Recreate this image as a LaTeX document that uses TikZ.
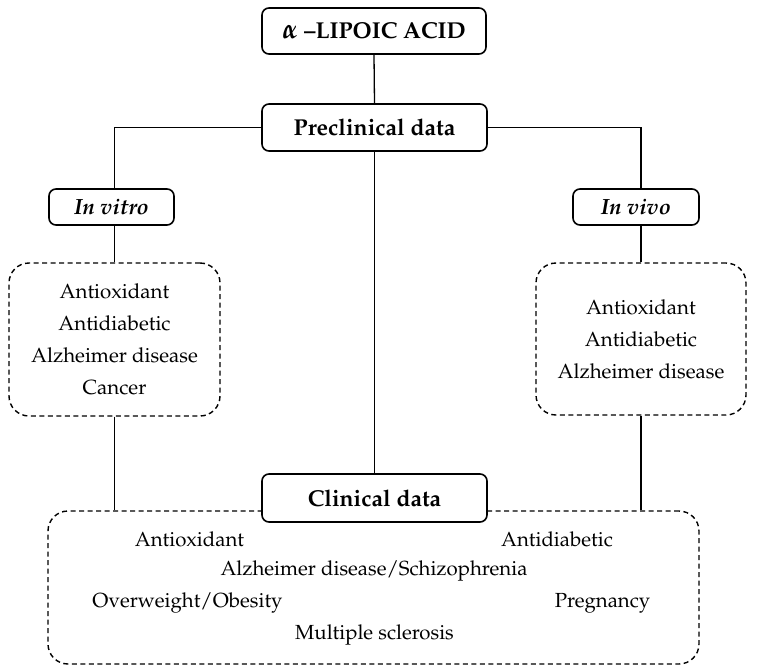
\documentclass[tikz,border=0pt]{standalone}
\usepackage[T1]{fontenc}
\usepackage{mathpazo}
\usetikzlibrary{backgrounds}
\tikzset{
  x=1pt,y=-1pt,
  solidbox/.style={draw,line width=1.6pt,rounded corners=7pt,fill=white,inner sep=0pt,font=\fontsize{23}{26}\selectfont\bfseries},
  dashbox/.style={draw,line width=1.4pt,dash pattern=on 5pt off 3.5pt,rounded corners=20pt,fill=white,inner sep=0pt,align=center,font=\fontsize{20.5}{32}\selectfont},
  conn/.style={line width=1.3pt},
  item/.style={inner sep=0pt,font=\fontsize{20.4}{24}\selectfont}
}
\begin{document}
\begin{tikzpicture}
\useasboundingbox (0,0) rectangle (758,670);
\node[solidbox,minimum width=224pt,minimum height=46pt] (top) at (374,31) {{\fontsize{28}{28}\selectfont\boldmath$\alpha$} --LIPOIC ACID};
\node[solidbox,minimum width=225pt,minimum height=47pt] (pre) at (374.5,127.5) {Preclinical data};
\node[dashbox,minimum width=211pt,minimum height=153pt] (vitroList) at (114.5,339.5) {Antioxidant\\Antidiabetic\\Alzheimer disease\\Cancer};
\node[dashbox,minimum width=210pt,minimum height=152pt] (vivoList) at (641,339) {Antioxidant\\Antidiabetic\\Alzheimer disease};
\node[solidbox,font=\fontsize{22}{24}\selectfont\bfseries\itshape,minimum width=125pt,minimum height=36pt] (vitro) at (111.5,207) {In vitro};
\node[solidbox,font=\fontsize{22}{24}\selectfont\bfseries\itshape,minimum width=126pt,minimum height=36pt] (vivo) at (636,207) {In vivo};
\node[dashbox,minimum width=651pt,minimum height=153pt] (clinList) at (373.5,587.5) {};
\node[solidbox,minimum width=225pt,minimum height=48pt] (clin) at (374.5,498) {Clinical data};
\node[item] (c1) at (189.5,539) {Antioxidant};
\node[item] (c2) at (557,539) {Antidiabetic};
\node[item] (c3) at (374,571) {Alzheimer disease/Schizophrenia};
\node[item] (c4) at (187.5,603) {Overweight/Obesity};
\node[item] (c5) at (602.5,603) {Pregnancy};
\node[item] (c6) at (374.5,635) {Multiple sclerosis};
\begin{scope}[on background layer]
\draw[conn] (top.south) -- (pre.north);
\draw[conn] (pre.south) -- (clin.north);
\draw[conn] (pre.west) -| (vitroList.north);
\draw[conn] (pre.east) -| (vivoList.north);
\draw[conn] (vitroList.south) -- (vitroList.south |- clinList.north);
\draw[conn] (vivoList.south) -- (vivoList.south |- clinList.north);
\end{scope}
\end{tikzpicture}
\end{document}
